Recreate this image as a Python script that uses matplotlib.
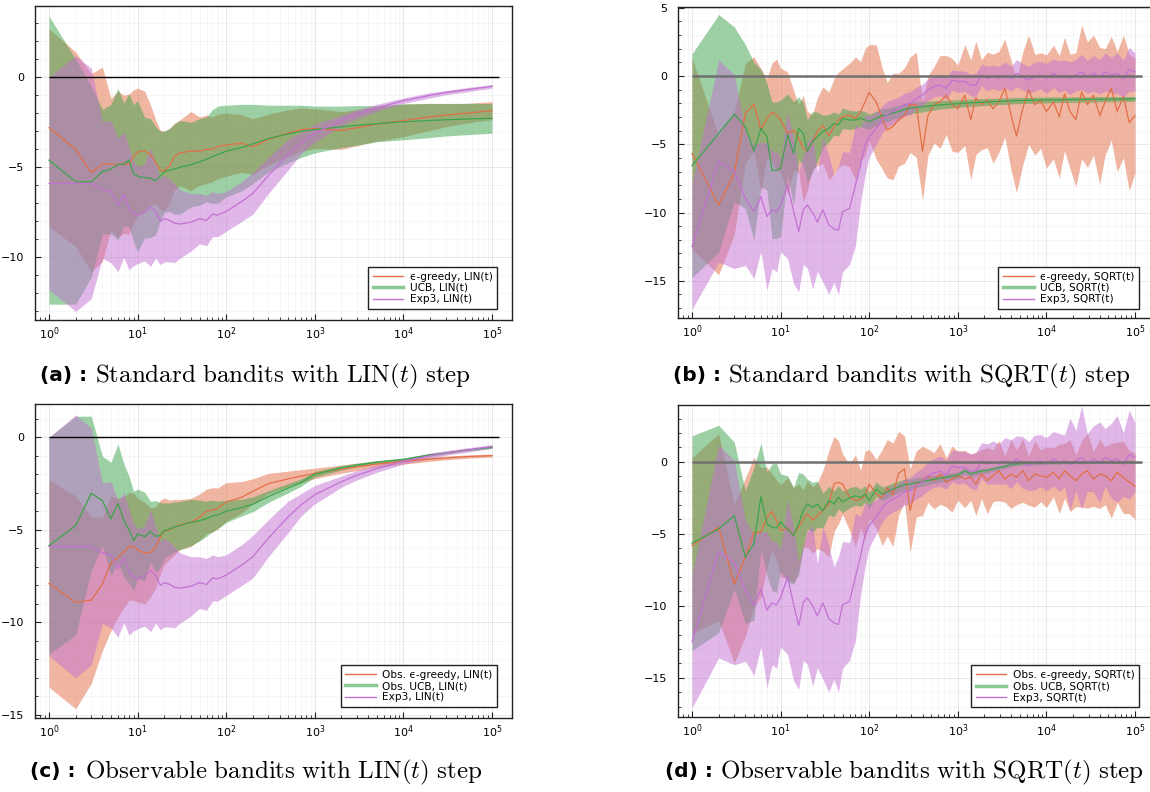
import numpy as np
import matplotlib.pyplot as plt
from matplotlib.lines import Line2D
from matplotlib.ticker import MultipleLocator, LogLocator, NullFormatter

plt.rcParams['mathtext.fontset'] = 'cm'
plt.rcParams['font.family'] = ['DejaVu Sans']

# ---- data: time steps ----
t_lin = [1, 2, 3, 4, 5, 6, 7, 8, 9, 10, 12, 14, 16, 18, 20, 23, 26, 30, 40, 50,
         60, 70, 80, 100, 150, 200, 300, 500, 700, 1000, 2000, 3000, 5000, 10000,
         20000, 30000, 50000, 100000]

t_sqrt = [1, 2, 3, 4, 5, 6, 7, 8, 9, 10,
          12, 14, 16, 18, 20, 23, 26, 30, 35, 40, 45, 50, 60, 70, 80, 90, 100,
          120, 140, 160, 185, 215, 250, 290, 340, 400, 460, 540, 630, 740, 860, 1000,
          1200, 1400, 1600, 1850, 2150, 2500, 2900, 3400, 4000, 4600, 5400, 6300, 7400, 8600, 10000,
          12000, 14000, 16000, 18500, 21500, 25000, 29000, 34000, 40000, 46000, 54000, 63000, 74000, 86000, 100000]

# ---- (a) standard bandits, LIN(t) ----
eg_lin_mean = [-2.8, -4.0, -5.3, -4.83, -4.83, -4.83, -4.83, -4.83, -4.4, -4.15, -4.07, -4.3, -4.7,
               -5.15, -5.2, -4.9, -4.4, -4.2, -4.1, -4.1, -4.0, -4.0, -3.85, -3.75, -3.67, -3.85,
               -3.45, -3.1, -2.9, -2.85, -2.95, -2.8, -2.6, -2.4, -2.2, -2.1, -2.0, -1.85]
eg_lin_std = [5.5, 5.4, 5.5, 5.4, 3.66, 4.07, 3.83, 3.9, 3.7, 3.55, 3.3, 2.76, 2.33, 2.22, 2.2,
              2.07, 1.85, 1.83, 2.2, 1.9, 1.9, 1.8, 1.8, 1.75, 1.6, 1.55, 1.4, 1.3, 1.2, 1.1,
              1.05, 1.0, 0.95, 0.9, 0.75, 0.65, 0.55, 0.5]
ucb_lin_mean = [-4.6, -5.8, -5.8, -5.24, -5.1, -4.83, -4.83, -4.6, -5.33, -5.5, -5.57, -5.6, -5.75,
                -5.5, -5.24, -5.15, -5.1, -5.0, -4.85, -4.7, -4.55, -4.4, -4.3, -4.1, -3.9, -3.7,
                -3.4, -3.15, -3.0, -2.9, -2.75, -2.67, -2.58, -2.47, -2.4, -2.36, -2.32, -2.28]
ucb_lin_std = [8.0, 6.8, 5.3, 3.45, 3.6, 4.2, 3.4, 3.7, 3.8, 4.2, 3.35, 3.3, 3.0, 2.5, 2.25,
               2.3, 2.5, 2.6, 2.35, 2.4, 2.35, 2.6, 2.7, 2.55, 2.4, 2.2, 1.85, 1.6, 1.45, 1.3,
               1.15, 1.1, 1.0, 1.0, 0.95, 0.9, 0.87, 0.83]
exp3_lin_mean = [-5.9, -5.9, -5.9, -6.25, -6.35, -7.1, -6.5, -7.3, -7.55, -7.65, -7.5, -7.2, -7.45,
                 -8.0, -7.85, -7.95, -8.1, -8.15, -8.05, -7.85, -7.95, -7.6, -7.65, -7.45, -6.9,
                 -6.45, -5.45, -4.3, -3.65, -3.1, -2.4, -2.05, -1.7, -1.3, -1.0, -0.85, -0.7, -0.5]
exp3_lin_std = [5.9, 7.1, 6.4, 3.8, 3.95, 3.7, 3.5, 3.4, 2.9, 2.7, 2.7, 3.3, 2.6, 2.4, 2.4, 2.3,
                2.2, 1.9, 1.6, 1.4, 1.4, 1.25, 1.2, 1.1, 1.1, 1.15, 1.0, 0.85, 0.6, 0.5, 0.3,
                0.25, 0.2, 0.15, 0.15, 0.12, 0.12, 0.1]

# ---- (c) observable bandits, LIN(t) ----
oeg_lin_mean = [-7.9, -8.92, -8.8, -7.93, -6.8, -6.5, -6.2, -5.9, -5.92, -6.1, -6.25, -6.22, -5.95,
                -5.4, -5.08, -5.0, -4.86, -4.72, -4.6, -4.32, -4.0, -3.93, -3.84, -3.5, -3.24,
                -2.92, -2.5, -2.25, -2.1, -1.95, -1.72, -1.6, -1.45, -1.3, -1.18, -1.12, -1.05, -0.99]
oeg_lin_std = [5.6, 5.75, 4.5, 3.6, 3.65, 3.2, 3.0, 2.9, 2.9, 2.8, 2.75, 2.4, 2.2, 2.0, 1.8, 1.6,
               1.5, 1.35, 1.3, 1.25, 1.2, 1.2, 1.1, 1.05, 0.85, 0.68, 0.55, 0.42, 0.35, 0.28,
               0.22, 0.2, 0.17, 0.15, 0.12, 0.1, 0.09, 0.08]
oucb_lin_mean = [-5.86, -4.77, -3.03, -3.42, -4.41, -3.57, -4.5, -5.0, -5.59, -5.22, -5.37, -5.1,
                 -5.35, -5.3, -5.05, -4.95, -4.85, -4.77, -4.6, -4.5, -4.4, -4.25, -4.2, -4.0,
                 -3.8, -3.62, -3.2, -2.75, -2.45, -2.0, -1.65, -1.5, -1.35, -1.2, -0.95, -0.85,
                 -0.7, -0.55]
oucb_lin_std = [5.86, 5.9, 4.17, 2.4, 3.06, 3.2, 3.06, 2.9, 2.67, 2.42, 2.4, 1.64, 1.93, 1.77,
                1.5, 1.4, 1.35, 1.3, 1.25, 1.1, 0.95, 0.85, 0.75, 0.6, 0.45, 0.4, 0.32, 0.25,
                0.2, 0.15, 0.12, 0.1, 0.09, 0.08, 0.07, 0.06, 0.05, 0.05]

# ---- (b) standard bandits, SQRT(t) ----
eg_sqrt_mean = [-5.67, -9.45, -7.13, -2.73, -2.05, -3.96, -3.1, -2.66, -2.86, -3.22,
                -4.2, -3.96, -4.57, -5.3, -5.5, -4.8, -4.08, -3.6, -4.37, -3.71, -3.22, -2.98, -2.86, -3.1, -2.6, -1.88, -1.2,
                -1.9, -3.1, -3.96, -3.7, -3.2, -2.9, -2.1, -2.1, -5.5, -2.9, -2.1, -1.9, -1.4, -2.1, -2.4,
                -1.4, -3.2, -1.6, -2.1, -1.75, -2.4, -1.9, -0.9, -2.9, -4.4, -2.4, -1.0, -2.1, -1.8, -2.6,
                -1.9, -3.0, -1.3, -2.6, -3.2, -1.15, -2.1, -1.4, -2.9, -1.9, -0.9, -2.6, -1.5, -3.4, -2.9]
eg_sqrt_std = [7.0, 5.1, 4.5, 3.66, 3.47, 4.5, 2.9, 3.6, 4.1, 3.8,
               4.5, 2.93, 2.45, 3.9, 2.9, 2.0, 2.5, 2.8, 3.2, 3.5, 3.5, 3.5, 3.8, 4.5, 3.65, 3.9, 3.5,
               4.2, 3.7, 3.5, 3.9, 3.4, 3.5, 3.5, 3.85, 3.6, 2.9, 2.8, 3.4, 2.9, 3.4, 3.2,
               3.7, 4.4, 4.15, 3.3, 3.5, 4.0, 3.7, 3.6, 4.0, 4.15, 4.15, 4.0, 3.7, 3.5, 4.15,
               4.15, 4.5, 4.15, 4.2, 4.9, 4.9, 4.6, 4.4, 5.0, 3.9, 3.8, 4.4, 4.5, 5.0, 4.2]
ucb_sqrt_mean = [-6.57, -4.2, -2.8, -3.7, -5.5, -3.83, -4.44, -6.9, -6.9, -6.76,
                 -4.3, -5.67, -3.83, -4.2, -5.5, -4.8, -4.44, -4.08, -3.83, -3.47, -3.6, -3.1, -3.22, -3.22, -3.1, -3.22, -3.35,
                 -3.1, -2.9, -2.85, -2.7, -2.6, -2.45, -2.35, -2.3, -2.25, -2.2, -2.15, -2.1, -2.08, -2.05, -2.02,
                 -1.98, -1.96, -1.94, -1.92, -1.9, -1.88, -1.86, -1.84, -1.82, -1.8, -1.79, -1.78, -1.77, -1.76, -1.75,
                 -1.74, -1.74, -1.73, -1.73, -1.72, -1.72, -1.71, -1.71, -1.7, -1.7, -1.69, -1.69, -1.68, -1.68, -1.68]
ucb_sqrt_std = [8.2, 8.7, 6.4, 6.0, 6.5, 4.3, 3.9, 5.0, 5.0, 5.0,
                3.0, 3.8, 2.3, 2.3, 2.3, 2.2, 1.8, 1.2, 1.0, 0.85, 0.8, 0.75, 0.7, 0.65, 0.6, 0.6, 0.55,
                0.52, 0.5, 0.48, 0.46, 0.45, 0.43, 0.42, 0.4, 0.38, 0.36, 0.34, 0.32, 0.3, 0.29, 0.28,
                0.27, 0.27, 0.26, 0.26, 0.25, 0.25, 0.24, 0.24, 0.23, 0.23, 0.22, 0.22, 0.22, 0.21, 0.21,
                0.21, 0.2, 0.2, 0.2, 0.2, 0.19, 0.19, 0.19, 0.19, 0.18, 0.18, 0.18, 0.18, 0.18, 0.18]
exp3_sqrt_mean = [-12.5, -6.23, -7.0, -8.96, -9.94, -8.84, -10.3, -9.8, -9.94, -9.45,
                  -8.0, -9.9, -11.4, -9.8, -9.45, -10.0, -10.7, -9.8, -10.9, -11.2, -11.3, -9.94, -9.7, -8.0, -6.5, -5.05, -4.44,
                  -3.83, -3.2, -2.8, -2.6, -2.4, -2.1, -2.0, -1.64, -1.4, -1.0, -0.78, -0.66, -0.9, -0.3, -0.4,
                  -0.4, -0.66, -0.66, 0.07, -0.17, -0.05, -0.17, 0.07, -0.17, 0.2, -0.05, -0.3, -0.05, 0.07, -0.17,
                  0.2, -0.05, 0.07, -0.17, 0.07, 0.3, -0.05, 0.2, -0.05, 0.3, 0.07, 0.2, -0.2, 0.5, 0.3]
exp3_sqrt_std_b = [4.6, 7.4, 7.1, 4.9, 4.9, 4.0, 5.4, 4.3, 4.4, 3.4,
                   5.4, 5.3, 4.4, 4.0, 4.6, 5.6, 3.6, 5.3, 5.1, 3.9, 4.7, 4.4, 4.1, 4.4, 2.7, 2.2, 1.5,
                   1.2, 1.0, 0.95, 0.9, 0.85, 0.85, 0.85, 0.8, 0.8, 0.8, 0.75, 0.8, 0.8, 0.75, 0.8,
                   0.75, 0.8, 0.85, 0.8, 0.9, 0.85, 0.9, 0.95, 0.9, 1.0, 0.95, 1.0, 1.05, 1.0, 1.1,
                   1.05, 1.15, 1.1, 1.2, 1.15, 1.3, 1.2, 1.3, 1.25, 1.4, 1.3, 1.5, 1.35, 1.6, 1.4]

# ---- (d) observable bandits, SQRT(t) ----
oeg_sqrt_mean = [-5.82, -4.55, -8.48, -6.63, -4.9, -4.9, -3.86, -3.44, -4.09, -4.78,
                 -4.6, -5.1, -4.55, -3.97, -3.63, -4.04, -3.74, -3.4, -2.93, -1.55, -1.43, -1.55, -2.47, -2.7, -2.6, -2.36, -1.55,
                 -2.24, -2.5, -1.8, -2.3, -0.8, -0.5, -3.4, -1.55, -1.32, -0.97, -1.32, -0.85, -1.44, -1.2, -0.97,
                 -1.2, -1.08, -1.55, -0.85, -1.32, -0.97, -0.62, -1.2, -0.85, -1.08, -0.62, -1.32, -0.85, -0.97, -1.08,
                 -0.74, -1.2, -0.62, -0.97, -1.32, -0.85, -0.62, -1.2, -0.85, -0.97, -1.32, -0.74, -1.1, -1.4, -1.7]
oeg_sqrt_std = [6.1, 6.5, 5.5, 5.5, 5.2, 4.5, 3.5, 2.6, 2.8, 3.2,
                3.5, 3.3, 3.0, 2.0, 2.3, 2.3, 2.3, 2.8, 3.7, 3.3, 2.9, 2.1, 2.3, 3.2, 2.0, 3.1, 2.4,
                2.4, 3.35, 3.35, 3.6, 2.9, 2.3, 2.9, 2.3, 2.4, 1.85, 1.96, 2.1, 1.7, 2.3, 1.7,
                2.0, 1.6, 2.2, 1.7, 2.3, 1.8, 2.1, 1.6, 2.4, 1.9, 2.2, 1.7, 2.3, 1.8, 2.1,
                1.7, 2.4, 1.9, 2.5, 1.8, 2.3, 2.6, 1.9, 2.4, 2.0, 2.6, 2.1, 2.5, 2.2, 2.3]
oucb_sqrt_mean = [-5.66, -4.67, -3.74, -6.63, -5.7, -2.42, -4.3, -4.55, -4.6, -4.2,
                  -4.67, -5.13, -4.3, -3.4, -2.93, -3.16, -2.95, -3.4, -2.7, -2.93, -2.47, -2.8, -2.5, -2.36, -2.5, -2.24, -2.7,
                  -1.9, -2.24, -2.1, -1.9, -1.75, -1.6, -1.55, -1.45, -1.38, -1.3, -1.22, -1.15, -1.08, -1.0, -0.95,
                  -0.62, -0.85, -0.74, -0.65, -0.6, -0.5, -0.42, -0.32, -0.2, -0.16, -0.13, -0.12, -0.1, -0.1, -0.08,
                  -0.07, -0.07, -0.06, -0.06, -0.05, -0.05, -0.05, -0.04, -0.04, -0.04, -0.03, -0.03, -0.03, -0.03, -0.03]
oucb_sqrt_std = [7.46, 7.2, 5.1, 4.6, 5.3, 3.7, 3.56, 4.4, 4.5, 3.35,
                 3.7, 3.35, 3.56, 2.55, 1.73, 1.73, 1.6, 1.2, 1.0, 0.9, 0.8, 0.75, 0.7, 0.65, 0.6, 0.58, 0.55,
                 0.5, 0.48, 0.45, 0.43, 0.4, 0.38, 0.36, 0.34, 0.32, 0.3, 0.28, 0.27, 0.26, 0.25, 0.24,
                 0.22, 0.21, 0.2, 0.19, 0.18, 0.17, 0.16, 0.15, 0.14, 0.13, 0.12, 0.12, 0.11, 0.11, 0.1,
                 0.1, 0.1, 0.09, 0.09, 0.09, 0.09, 0.08, 0.08, 0.08, 0.08, 0.08, 0.08, 0.08, 0.08, 0.08]
exp3_sqrt_std_d = exp3_sqrt_std_b[:27] + [
    1.2, 1.0, 0.95, 0.9, 0.9, 0.9, 0.9, 0.95, 0.95, 1.0, 1.0, 1.05, 1.0, 1.1, 1.15,
    1.1, 1.2, 1.3, 1.25, 1.4, 1.5, 1.4, 1.6, 1.7, 1.6, 1.8, 1.7, 1.9, 1.8, 1.85,
    1.9, 2.0, 1.8, 3.2, 2.1, 3.6, 2.0, 2.3, 2.8, 2.0, 2.6, 3.0, 2.2, 3.1, 2.4]

captions = [("(a) :", r"$\mathrm{Standard\ bandits\ with\ LIN}(t)\mathrm{\ step}$"),
            ("(b) :", r"$\mathrm{Standard\ bandits\ with\ SQRT}(t)\mathrm{\ step}$"),
            ("(c) :", r"$\mathrm{Observable\ bandits\ with\ LIN}(t)\mathrm{\ step}$"),
            ("(d) :", r"$\mathrm{Observable\ bandits\ with\ SQRT}(t)\mathrm{\ step}$")]

ORANGE = '#e26f46'
GREEN = '#3da44d'
PURPLE = '#c271d2'

W, H = 1150, 792
XLIM = (10 ** -0.158, 10 ** 5.226)
ZERO_END = 10 ** 5.08

fig = plt.figure(figsize=(W / 100, H / 100), dpi=100)


def px_axes(left, top, right, bottom):
    return fig.add_axes([left / W, 1 - bottom / H, (right - left) / W, (bottom - top) / H])


def draw_panel(ax, t, series, ylim, yticks, zero_color, zero_lw, anchor):
    t = np.asarray(t, dtype=float)
    for mean, std, color, label, leg_lw in series:
        m = np.asarray(mean)
        s = np.asarray(std)
        ax.fill_between(t, m - s, m + s, color=color, alpha=0.5, lw=0)
        ax.plot(t, m, color=color, lw=0.9)
    ax.hlines(0, t[0], ZERO_END, color=zero_color, lw=zero_lw, zorder=5)
    ax.set_xscale('log')
    ax.set_xlim(XLIM)
    ax.set_ylim(ylim)
    ax.set_yticks(yticks)
    ax.yaxis.set_minor_locator(MultipleLocator(1))
    ax.xaxis.set_major_locator(LogLocator(base=10, numticks=10))
    ax.xaxis.set_minor_locator(LogLocator(base=10, subs=range(2, 10), numticks=20))
    ax.xaxis.set_minor_formatter(NullFormatter())
    ax.tick_params(which='both', direction='in', top=False, right=False,
                   labelsize=8, color='#222222')
    ax.tick_params(which='major', length=4, width=0.8)
    ax.tick_params(which='minor', length=2, width=0.6)
    ax.tick_params(axis='y', pad=8)
    ax.tick_params(axis='x', pad=4)
    ax.grid(which='major', color='black', alpha=0.1, lw=0.6)
    ax.grid(which='minor', color='black', alpha=0.05, lw=0.5)
    ax.set_axisbelow(True)
    for sp in ax.spines.values():
        sp.set_color('#222222')
        sp.set_linewidth(1.0)
    handles = [Line2D([], [], color=c, lw=lw, alpha=(0.6 if lw > 1.5 else 1)) for _, _, c, _, lw in series]
    labels = [s[3] for s in series]
    leg = ax.legend(handles, labels, loc='lower right', bbox_to_anchor=anchor, borderaxespad=0,
                    fontsize=7.6, fancybox=False, edgecolor='#222222', framealpha=1,
                    handlelength=2.9, labelspacing=0.12, borderpad=0.45, handletextpad=0.6)
    leg.get_frame().set_linewidth(1.0)


ax_a = px_axes(35, 6, 512, 320)
draw_panel(ax_a, t_lin,
           [(eg_lin_mean, eg_lin_std, ORANGE, 'ϵ-greedy, LIN(t)', 1.0),
            (ucb_lin_mean, ucb_lin_std, GREEN, 'UCB, LIN(t)', 2.5),
            (exp3_lin_mean, exp3_lin_std, PURPLE, 'Exp3, LIN(t)', 1.0)],
           (-13.48, 3.96), [-10, -5, 0], 'black', 1.0, (0.969, 0.035))

ax_b = px_axes(678, 6.7, 1155, 318.3)
draw_panel(ax_b, t_sqrt,
           [(eg_sqrt_mean, eg_sqrt_std, ORANGE, 'ϵ-greedy, SQRT(t)', 1.0),
            (ucb_sqrt_mean, ucb_sqrt_std, GREEN, 'UCB, SQRT(t)', 2.5),
            (exp3_sqrt_mean, exp3_sqrt_std_b, PURPLE, 'Exp3, SQRT(t)', 1.0)],
           (-17.75, 5.08), [-15, -10, -5, 0, 5], '#707070', 1.8, (0.9665, 0.03))

ax_c = px_axes(35, 404.3, 512, 717.7)
draw_panel(ax_c, t_lin,
           [(oeg_lin_mean, oeg_lin_std, ORANGE, 'Obs. ϵ-greedy, LIN(t)', 1.0),
            (oucb_lin_mean, oucb_lin_std, GREEN, 'Obs. UCB, LIN(t)', 2.5),
            (exp3_lin_mean, exp3_lin_std, PURPLE, 'Exp3, LIN(t)', 1.0)],
           (-15.15, 1.78), [-15, -10, -5, 0], 'black', 1.0, (0.969, 0.034))

ax_d = px_axes(678, 404.7, 1155, 717.3)
draw_panel(ax_d, t_sqrt,
           [(oeg_sqrt_mean, oeg_sqrt_std, ORANGE, 'Obs. ϵ-greedy, SQRT(t)', 1.0),
            (oucb_sqrt_mean, oucb_sqrt_std, GREEN, 'Obs. UCB, SQRT(t)', 2.5),
            (exp3_sqrt_mean, exp3_sqrt_std_d, PURPLE, 'Exp3, SQRT(t)', 1.0)],
           (-17.75, 3.96), [-15, -10, -5, 0], '#707070', 1.8, (0.9665, 0.032))

# captions under each panel (centred under the subfigure, as LaTeX does)
cap_pos = [(40, 376), (673, 376), (30, 772), (665, 772)]
for (lab, txt), (x, y) in zip(captions, cap_pos):
    fig.text(x / W, 1 - y / H, lab, fontsize=14.5, fontweight='bold', va='center', ha='left')
    fig.text((x + 55) / W, 1 - y / H, txt, fontsize=18, va='center', ha='left')

fig.savefig('out.png', dpi=100)
